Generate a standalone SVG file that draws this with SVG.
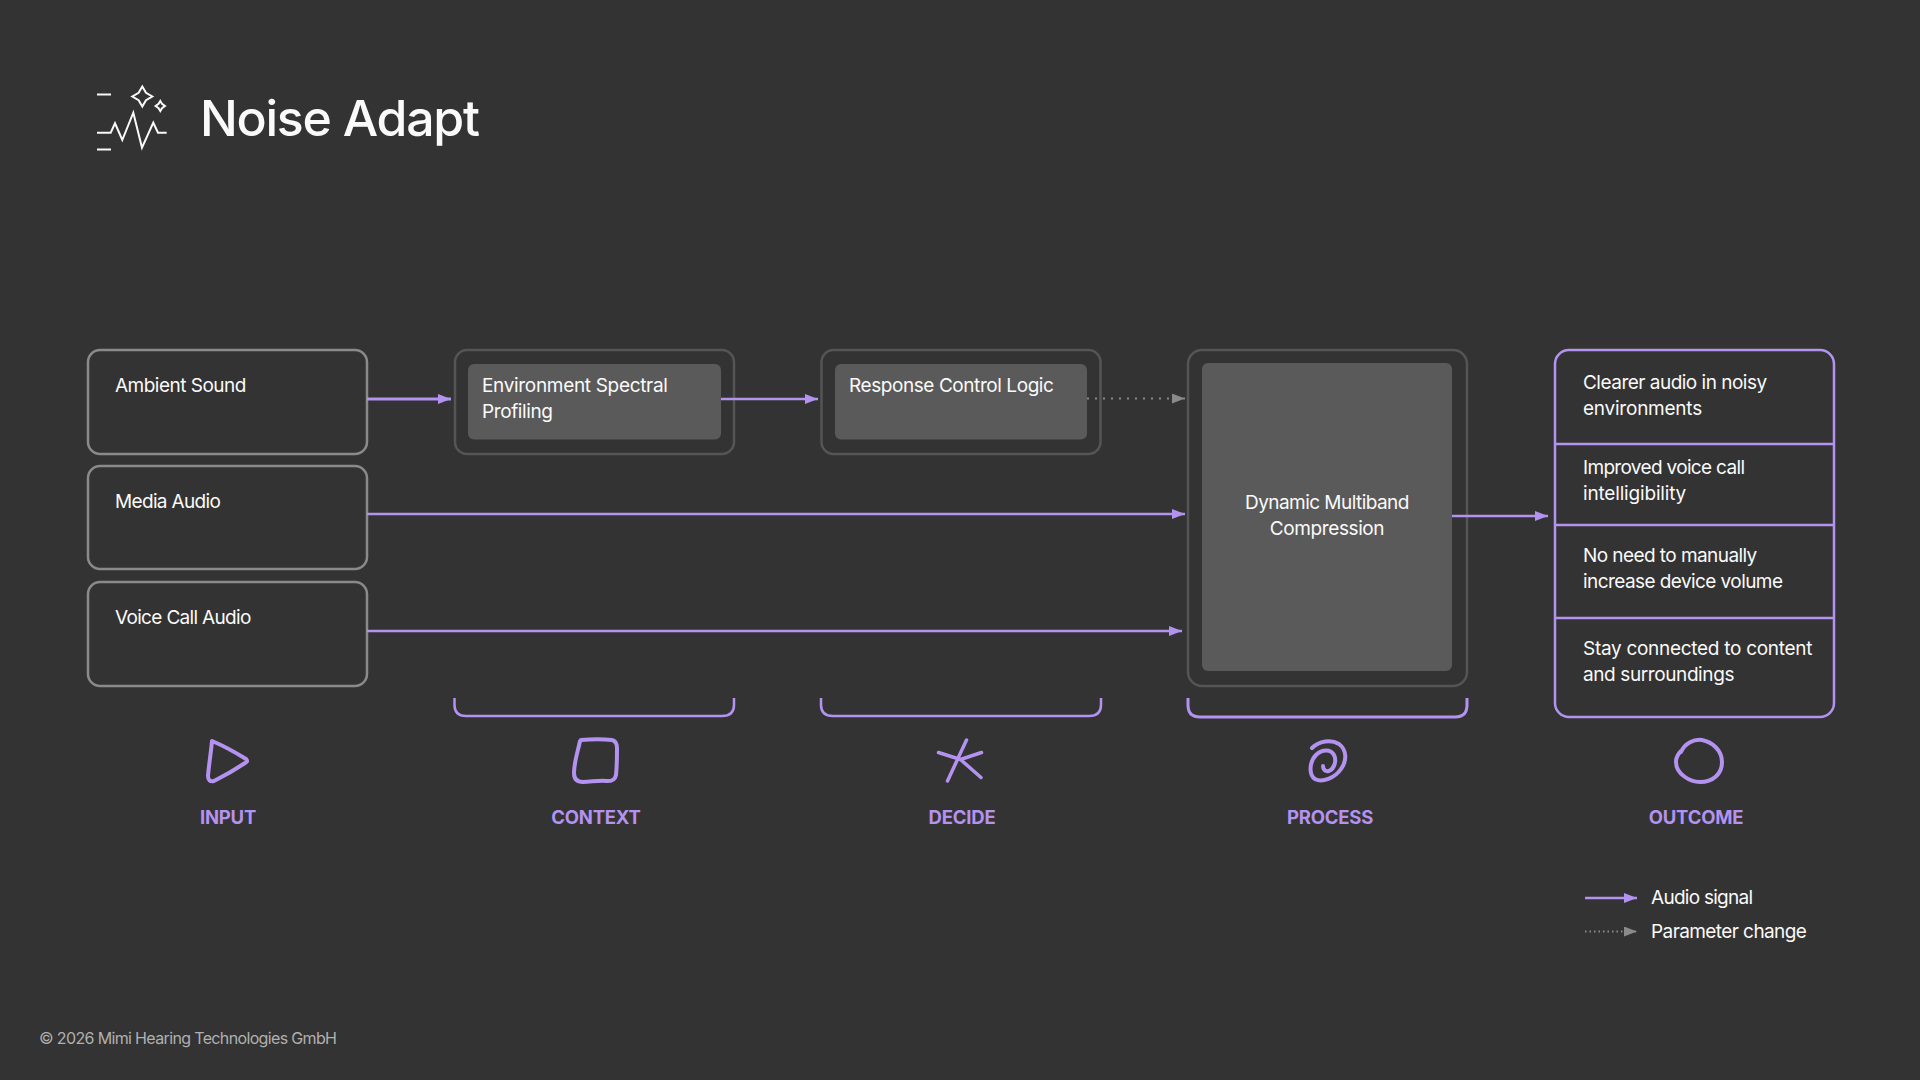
<svg xmlns="http://www.w3.org/2000/svg" width="1920" height="1080" viewBox="0 0 1920 1080">
<style>
text{font-family:"Inter","Noto Sans",sans-serif;fill:#fafafa;font-size:19px;letter-spacing:-.4px;font-weight:400}
.in{fill:none;stroke:#8a8a8a;stroke-width:2.5}
.out{fill:none;stroke:#555;stroke-width:2.5}
.inner{fill:#5a5a5a}
.pl{fill:none;stroke:#b392f0;stroke-width:2.5}
.ic{fill:none;stroke:#b392f0;stroke-width:4;stroke-linecap:round;stroke-linejoin:round}
.au{stroke:#b392f0;stroke-width:2.5;fill:none;marker-end:url(#a)}
.pa{stroke:#8a8a8a;stroke-width:2;fill:none;stroke-dasharray:2 6;marker-end:url(#p)}
text.lab{fill:#b392f0;font-weight:700;font-size:18.500px;text-anchor:middle;letter-spacing:-.2px}
.lg{fill:none;stroke:#fafafa;stroke-width:2}
</style>
<defs>
<marker id="a" markerUnits="userSpaceOnUse" markerWidth="14" markerHeight="12" refX="13" refY="5" orient="auto"><path d="M0 0L13 5L0 10Z" fill="#b392f0"/></marker>
<marker id="p" markerUnits="userSpaceOnUse" markerWidth="14" markerHeight="12" refX="13" refY="5" orient="auto"><path d="M0 0L13 5L0 10Z" fill="#8a8a8a"/></marker>
</defs>
<rect width="1920" height="1080" fill="#333"/>
<g id="header">
<path class="lg" d="M97 94.500H111M97 149.500H111M97 132.700H110.700L115 123.300L122.300 140L133.300 112.700L142 147.700L153.300 122.700L158 132.700H166.700"/>
<path class="lg" d="M142.300 86.500L146 92.800L152.300 96.500L146 100.200L142.300 106.500L138.600 100.200L132.300 96.500L138.600 92.800Z"/>
<path class="lg" d="M160.300 101L162 103.700L165 106L162 108.300L160.300 111L158.600 108.300L155.600 106L158.600 103.700Z"/>
<text x="200" y="136" textLength="280" style="font-size:50px;font-weight:500;letter-spacing:0">Noise Adapt</text>
</g>
<g id="input-ambient"><rect class="in" x="88" y="350" width="279" height="104" rx="12"/><text x="115" y="392" textLength="131">Ambient Sound</text></g>
<g id="input-media"><rect class="in" x="88" y="466" width="279" height="103" rx="12"/><text x="115" y="508" textLength="105.500">Media Audio</text></g>
<g id="input-voice"><rect class="in" x="88" y="582" width="279" height="104" rx="12"/><text x="115" y="624" textLength="136">Voice Call Audio</text></g>
<g id="context"><rect class="out" x="455" y="350" width="279" height="104" rx="12"/><rect class="inner" x="468" y="364" width="253" height="75.500" rx="6"/><text x="482" y="392" textLength="185.500">Environment Spectral</text><text x="482" y="418">Profiling</text></g>
<g id="decide"><rect class="out" x="821.500" y="350" width="279" height="104" rx="12"/><rect class="inner" x="835" y="364" width="252" height="75.500" rx="6"/><text x="849" y="392" textLength="204.500">Response Control Logic</text></g>
<g id="process"><rect class="out" x="1188" y="350" width="279" height="336" rx="14"/><rect class="inner" x="1202" y="363" width="250" height="308" rx="6"/><text x="1245" y="509" textLength="164">Dynamic Multiband</text><text x="1327" y="535" text-anchor="middle">Compression</text></g>
<g id="outcome"><rect class="pl" x="1555" y="350" width="279" height="367" rx="14"/><path class="pl" d="M1555 444H1834M1555 525H1834M1555 618H1834"/>
<text x="1583" y="389" textLength="183.700">Clearer audio in noisy</text><text x="1583" y="415" textLength="118.800">environments</text>
<text x="1583" y="474" textLength="161.600">Improved voice call</text><text x="1583" y="500" textLength="102.900">intelligibility</text>
<text x="1583" y="562" textLength="173.900">No need to manually</text><text x="1583" y="588" textLength="199.600">increase device volume</text>
<text x="1583" y="655" textLength="229">Stay connected to content</text><text x="1583" y="681">and surroundings</text></g>
<g id="connectors">
<path class="au" style="stroke-width:3" d="M367 399H451"/><path class="au" d="M721 399H818"/><path class="pa" d="M1087 398.500H1185"/>
<path class="au" d="M367 514H1185"/><path class="au" d="M367 631H1182"/><path class="au" d="M1452 516H1548"/>
</g>
<g id="brackets"><path class="pl" d="M454.500 698V705Q454.500 716 466 716H722Q734 716 734 705V698M821 698V705Q821 716 833 716H1089Q1101 716 1101 705V698"/><path class="pl" style="stroke-width:3" d="M1188 698V705Q1188 717 1200 717H1455Q1467 717 1467 705V698"/></g>
<g id="stage-input"><path class="ic" d="M212 741C224 746 238 754 246 759C248 761 247 762 245 763C236 769 224 776 214 781C210 782 208 780 208 776C209 764 211 752 212 741Z"/><text class="lab" x="228" y="824">INPUT</text></g>
<g id="stage-context"><path class="ic" d="M581 740C592 739 603 739 612 740C616 741 617 744 617 748C617 757 617 766 616 775C615 780 612 781 607 781C599 780 591 782 583 782C577 782 574 779 574 773C574 762 578 751 580 741"/><text class="lab" x="596" y="824">CONTEXT</text></g>
<g id="stage-decide"><path class="ic" style="stroke-width:3.500" d="M966.500 740L947.500 781M938.500 752.500L960.500 759.500L981.500 752.500M960.500 759.500L981 777.500"/><text class="lab" x="962" y="824">DECIDE</text></g>
<g id="stage-process"><path class="ic" d="M1312 748C1319 741 1331 739 1339 744C1347 750 1347 761 1341 769C1335 778 1322 783 1315 779C1308 774 1310 761 1316 755C1322 749 1331 749 1334 755C1337 761 1334 769 1329 771C1325 772 1323 769 1323 766"/><text class="lab" x="1330" y="824">PROCESS</text></g>
<g id="stage-outcome"><path class="ic" d="M1681 752C1685 743 1694 739 1702 740C1712 742 1722 750 1722 762C1722 774 1713 782 1700 782C1690 782 1676 774 1676 762C1676 757 1678 754 1681 751"/><text class="lab" x="1696" y="824">OUTCOME</text></g>
<g id="legend"><path class="au" d="M1585 898H1637"/><text x="1651" y="904" textLength="101.600">Audio signal</text><path class="pa" style="stroke-dasharray:1.500 3" d="M1585 931.500H1637"/><text x="1651" y="938" textLength="155.500">Parameter change</text></g>
<g id="footer"><text x="39" y="1044" textLength="298" style="font-size:16px;fill:#b0b0b0;letter-spacing:0">© 2026 Mimi Hearing Technologies GmbH</text></g>
</svg>
